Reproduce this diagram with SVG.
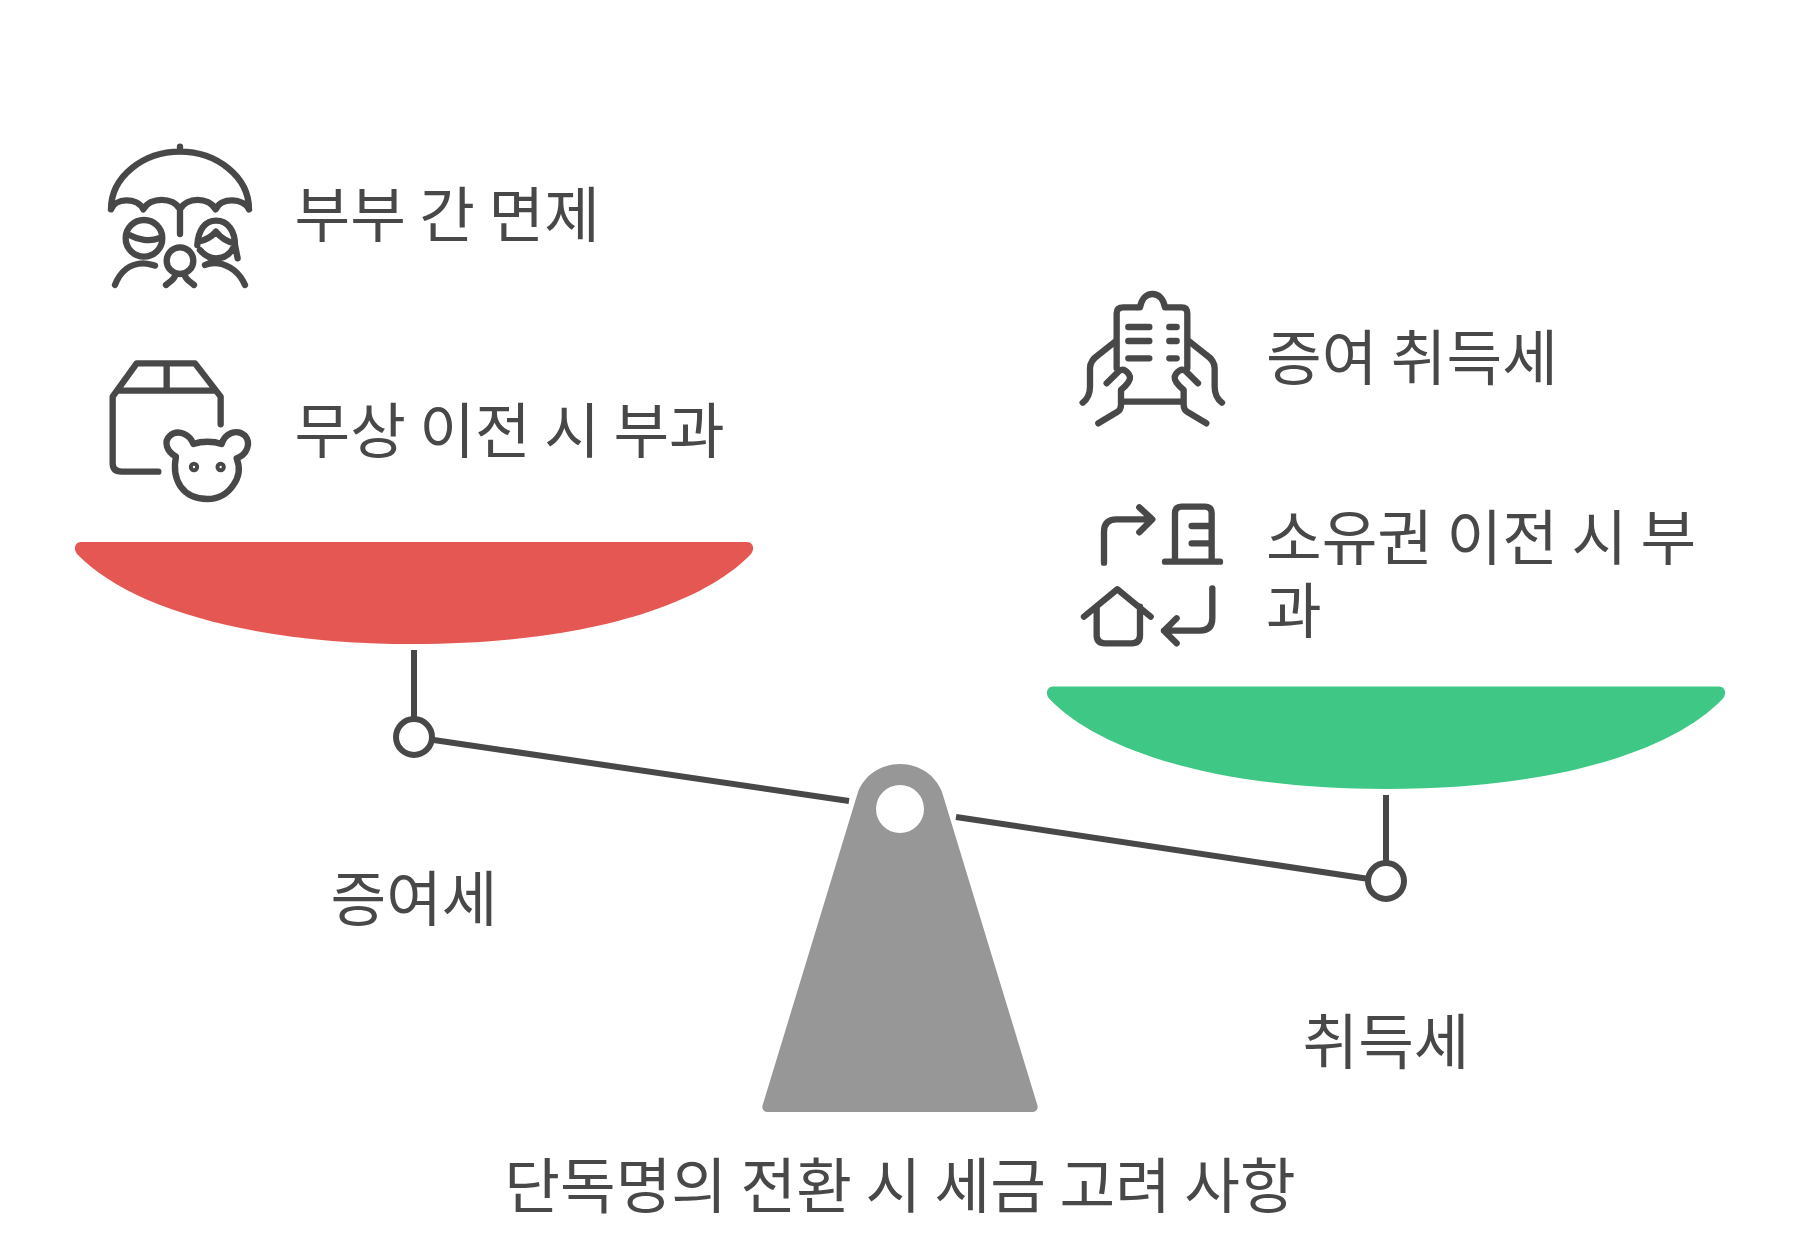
<svg xmlns="http://www.w3.org/2000/svg" width="1800" height="1257" viewBox="0 0 1800 1257">
<style>
text{font-family:"Noto Sans CJK KR","Noto Sans",sans-serif;font-size:60.500px;fill:#484848;font-weight:400}
.m{text-anchor:middle}
.i{fill:none;stroke:#484848;stroke-width:19;stroke-linecap:round;stroke-linejoin:round}
.l{stroke:#484848;stroke-width:6;fill:none}
</style>
<rect width="1800" height="1257" fill="#fff"/>
<g id="connectors">
<path class="l" d="M414 650V719M432 739.700L849 801M956 817L1369 879M1386 795V863"/>
<circle class="l" cx="414" cy="737" r="18" fill="#fff"/>
<circle class="l" cx="1386" cy="881" r="18" fill="#fff"/>
</g>
<g id="pan-left"><path fill="#E55753" d="M81 542H747C753 542 755 549 751 554C700 607 580 644 414 644C248 644 128 607 77 554C73 549 75 542 81 542Z"/></g>
<g id="pan-right"><path fill="#3EC785" d="M1053 686.500H1719C1725 686.500 1727 693.500 1723 698.500C1672 752 1552 789 1386 789C1220 789 1100 752 1049 698.500C1045 693.500 1047 686.500 1053 686.500Z"/></g>
<g id="pivot"><path fill="#979797" fill-rule="evenodd" d="M858 792C864 776 880 764 900 764C920 764 936 776 942 792L1037 1104C1039 1109 1036 1112 1032 1112H768C764 1112 761 1109 763 1104ZM876 809A24 24 0 0 0 924 809A24 24 0 0 0 876 809Z"/></g>
<g id="icon-umbrella" transform="translate(90 130) scale(.3333)" class="i">
<path d="M63 238C63 140 160 65 270 65C380 65 477 140 477 238M63 238C75 205 140 200 160 238C180 200 250 200 270 238C290 200 355 200 377 238C395 200 460 205 477 238M270 50V65M270 238V312"/>
<circle cx="162" cy="325" r="55"/><path d="M118 315C145 330 180 335 207 325M75 465C90 425 120 400 160 400C175 400 185 405 195 407"/>
<circle cx="270" cy="392" r="40"/><path d="M228 465C240 455 250 450 255 438M312 465C300 455 290 450 285 438"/>
<path d="M322 345C325 300 345 272 378 272C415 272 435 305 435 345L443 385M325 335C350 330 365 320 378 305C390 320 410 335 435 340M330 360C345 378 360 385 378 385C400 385 420 375 432 350M345 405C355 400 370 398 385 400C420 405 450 430 465 465"/>
</g>
<g id="icon-box" transform="translate(90 345) scale(.3333)" class="i">
<path d="M205 380H95Q68 380 68 355V155L140 55H315L392 155V238M90 137H375M230 55V137"/>
<path d="M258 335C230 320 220 290 240 272C265 250 300 270 310 297C335 288 370 288 395 297C405 265 440 250 465 272C485 295 470 330 440 340C450 365 448 395 430 420C410 450 380 462 352 462C320 462 290 450 272 425C255 400 252 365 258 335Z"/>
<circle cx="312" cy="366" r="6"/><circle cx="392" cy="366" r="6"/>
</g>
<g id="icon-clipboard" transform="translate(1060 280) scale(.3333)" class="i">
<path d="M170 265V100Q170 82 190 82H240C245 55 260 42 277 42C295 42 310 55 315 82H365Q382 82 382 100V265M205 141H268M205 183H268M205 235H268M328 141H350M328 183H350M328 235H350"/>
<path d="M68 368C85 355 90 340 90 320V265C90 245 100 235 115 225L165 185M140 310L175 275C190 262 205 275 210 290C212 305 195 320 183 330V375C183 385 180 392 170 397L115 430"/>
<path d="M486 368C469 355 464 340 464 320V265C464 245 454 235 439 225L389 185M414 310L379 275C364 262 349 275 344 290C342 305 359 320 371 330V375C371 385 374 392 384 397L439 430"/>
<path d="M190 365H365"/>
</g>
<g id="icon-transfer" transform="translate(1060 490) scale(.3333)" class="i">
<path d="M132 218V125Q132 88 170 88H275M238 52L277 88L238 127M345 212V70Q345 50 365 50H435Q455 50 455 70V212M315 215H480M395 108H450M395 160H450"/>
<path d="M72 380L172 298L272 380M110 350V435Q110 460 135 460H215Q240 460 240 435V350M457 295V385Q457 422 420 422H312M350 385L312 422L350 460"/>
</g>
<g id="labels">
<text x="294.500" y="236.500">부부 간 면제</text>
<text x="294.500" y="452.500">무상 이전 시 부과</text>
<text x="1266" y="380">증여 취득세</text>
<text x="1266" y="560">소유권 이전 시 부<tspan x="1266" dy="72.500">과</tspan></text>
<text class="m" x="414" y="920.500">증여세</text>
<text class="m" x="1386" y="1064">취득세</text>
<text class="m" x="900" y="1208">단독명의 전환 시 세금 고려 사항</text>
</g>
</svg>
